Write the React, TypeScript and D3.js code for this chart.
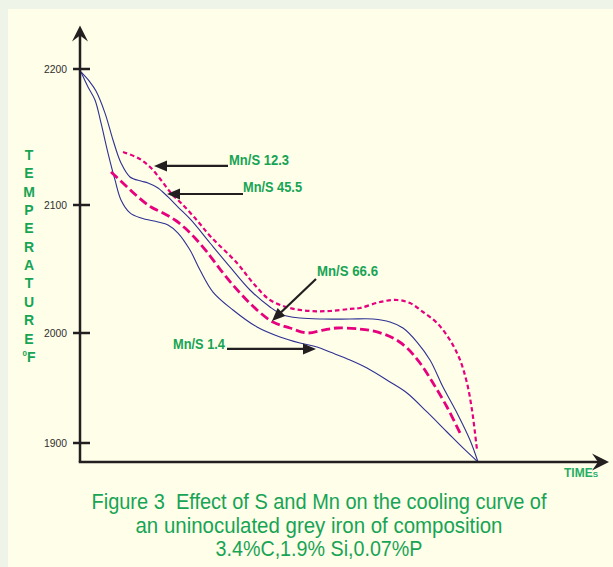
import * as d3 from 'd3';

const W = 613;
const H = 567;

// temperature ticks (°F) - the original axis is not evenly spaced
const tempTicks = [1900, 2000, 2100, 2200];
const yTitleLetters = ['T', 'E', 'M', 'P', 'E', 'R', 'A', 'T', 'U', 'R', 'E'];
const captionLines = [
  'Figure 3  Effect of S and Mn on the cooling curve of',
  'an uninoculated grey iron of composition',
  '3.4%C,1.9% Si,0.07%P',
];

// cooling curves: [time (arbitrary units), temperature °F]
const mnS45_5: [number, number][] = [
  [0.2, 2197.8], [2, 2190.4], [3.2, 2183.8], [5, 2167.6], [6.6, 2147.8], [8.2, 2130.9],
  [10, 2120.6], [12.2, 2117.6], [13.6, 2116.2], [15.6, 2112.5], [17.6, 2105.9], [19.6, 2098.4],
  [22.2, 2088.3], [26, 2070.3], [30, 2051.6], [34, 2033.6], [38, 2020.3], [40.6, 2014.1],
  [44, 2011.7], [48.6, 2010.9], [54, 2010.9], [58.6, 2010.9], [62, 2008.6], [64.6, 2003.9],
  [67.4, 1991.8], [70, 1975.5], [72.6, 1950.9], [75.4, 1927.3], [78, 1902.7], [79.6, 1882.7],
];

const mnS1_4: [number, number][] = [
  [0.2, 2197.8], [1.6, 2186.8], [3, 2177.2], [4.2, 2160.3], [5.6, 2138.2], [7, 2118.4],
  [8.2, 2103.7], [10, 2093.8], [12.2, 2089.8], [15.6, 2086.7], [17.6, 2084.4], [19.6, 2078.1],
  [22, 2064.8], [24, 2049.2], [26.6, 2032.0], [30.6, 2018.0], [35.4, 2004.7], [40, 1996.4],
  [44, 1990.9], [47.4, 1987.3], [50, 1982.7], [54, 1975.5], [57.4, 1968.2], [62, 1955.5],
  [65.4, 1945.5], [69.4, 1928.2], [73.4, 1910.0], [76.6, 1895.5], [79.6, 1882.7],
];

const mnS12_3: [number, number][] = [
  [8.6, 2139.0], [11.6, 2134.6], [14, 2127.9], [16.2, 2118.4], [18.2, 2108.8], [20.2, 2101.5],
  [23, 2089.8], [26.2, 2075.0], [31.4, 2054.7], [34.6, 2039.1], [38, 2025.8], [42, 2019.5],
  [46, 2017.2], [50, 2017.2], [54, 2018.8], [56, 2019.5], [60, 2024.2], [63.4, 2025.8],
  [66, 2023.4], [68.6, 2016.4], [71.4, 2007.8], [74, 1993.6], [76, 1975.5], [77.4, 1954.5],
  [78.4, 1930.0], [79, 1909.1], [79.4, 1893.6],
];

const mnS66_6: [number, number][] = [
  [6.2, 2124.3], [9, 2114.7], [11.6, 2105.9], [14.2, 2098.4], [16.6, 2093.8], [19, 2088.3],
  [21, 2082.0], [23, 2074.2], [25.4, 2063.3], [28.6, 2046.9], [32, 2031.3], [35.4, 2018.0],
  [38.6, 2008.6], [42, 2003.9], [45.4, 2000.0], [48.6, 2002.3], [51.4, 2003.9], [56, 2003.1],
  [59.4, 2000.8], [62.6, 1995.5], [65.4, 1986.4], [68, 1972.7], [70.6, 1954.5], [73.4, 1932.7],
  [76, 1909.1],
];

const series = [
  { key: '45.5', data: mnS45_5, color: '#2e3192', width: 1.1, dash: undefined },
  { key: '1.4', data: mnS1_4, color: '#2e3192', width: 1.1, dash: undefined },
  { key: '12.3', data: mnS12_3, color: '#e6007e', width: 2.2, dash: '4.5,3' },
  { key: '66.6', data: mnS66_6, color: '#e6007e', width: 2.8, dash: '9,4' },
];

// label arrows, in data units: tail (where the label sits) -> tip
const annotations = [
  { label: 'Mn/S 12.3', tail: [29.6, 2128.7], tip: [14.8, 2128.7], anchor: 'start', dx: 1, dy: -1, len: 60 },
  { label: 'Mn/S 45.5', tail: [32.6, 2108.1], tip: [17.4, 2108.1], anchor: 'start', dx: 0, dy: -2, len: 59 },
  { label: 'Mn/S 66.6', tail: [47.2, 2042.2], tip: [38.4, 2009.4], anchor: 'start', dx: 1, dy: -3, len: 61 },
  { label: 'Mn/S 1.4', tail: [29.4, 1985.5], tip: [47.2, 1985.5], anchor: 'end', dx: -2, dy: 0, len: 52 },
];

const timeMax = 105.8;
const tempFloor = 1882.7;
const tempTop = 2232;

const GREEN = '#17a455';
const INK = '#231f20';
const FONT = "'Liberation Sans', Arial, sans-serif";

function arrowHead(tip: [number, number], from: [number, number], len: number, half: number, notch: number) {
  const dx = tip[0] - from[0];
  const dy = tip[1] - from[1];
  const d = Math.hypot(dx, dy);
  const ux = dx / d, uy = dy / d;
  const px = -uy, py = ux;
  const bx = tip[0] - ux * len, by = tip[1] - uy * len;
  const nx = tip[0] - ux * (len - notch), ny = tip[1] - uy * (len - notch);
  return `M${tip[0]},${tip[1]}L${bx + px * half},${by + py * half}L${nx},${ny}L${bx - px * half},${by - py * half}Z`;
}

export default function App() {
  const x = d3.scaleLinear().domain([0, 100]).range([80, 580]);
  const y = d3.scaleLinear().domain(tempTicks).range([443, 333, 205, 69]);

  const line = d3
    .line<[number, number]>()
    .x((d) => x(d[0]))
    .y((d) => y(d[1]))
    .curve(d3.curveCatmullRom.alpha(0.5));

  const x0 = x(0);
  const yBase = y(tempFloor);
  const xEnd = x(timeMax);
  const yEnd = y(tempTop);

  return (
    <div style={{ position: 'absolute', left: 0, top: 0 }}>
      <svg width={W} height={H} style={{ display: 'block' }} fontFamily={FONT}>
        <rect width={W} height={H} fill="#eef4e7" />
        <rect x={8} y={9} width={W - 8} height={H - 9} fill="#fffee9" />

        {series.map((s) => (
          <path
            key={s.key}
            d={line(s.data) ?? ''}
            fill="none"
            stroke={s.color}
            strokeWidth={s.width}
            strokeDasharray={s.dash}
          />
        ))}

        {/* axes */}
        <line x1={x0} y1={yBase} x2={x0} y2={yEnd + 8} stroke={INK} strokeWidth={2.5} />
        <line x1={x0 - 1.25} y1={yBase} x2={xEnd - 8} y2={yBase} stroke={INK} strokeWidth={2.5} />
        <path d={arrowHead([x0, yEnd], [x0, yBase], 16, 8, 6)} fill={INK} />
        <path d={arrowHead([xEnd, yBase], [x0, yBase], 17, 8.5, 6)} fill={INK} />

        {tempTicks.map((t) => (
          <g key={t}>
            <line x1={x0 - 7} x2={x0 + 10} y1={y(t)} y2={y(t)} stroke={INK} strokeWidth={2.5} />
            <text
              x={67}
              y={y(t)}
              dominantBaseline="central"
              textAnchor="end"
              fontSize={11}
              fill="#2d2d2d"
              textLength={23}
              lengthAdjust="spacingAndGlyphs"
            >
              {t}
            </text>
          </g>
        ))}

        {/* vertical axis title */}
        {yTitleLetters.map((c, i) => (
          <text
            key={i}
            x={29}
            y={155 + i * 18.35}
            textAnchor="middle"
            dominantBaseline="central"
            fontSize={14}
            fontWeight="bold"
            fill={GREEN}
          >
            {c}
          </text>
        ))}
        <text x={29} y={155 + 11 * 18.35} textAnchor="middle" dominantBaseline="central" fontSize={14} fontWeight="bold" fill={GREEN}>
          <tspan fontSize={8} dy={-4}>0</tspan>
          <tspan dy={4}>F</tspan>
        </text>

        <text x={564} y={477} fontSize={12} fontWeight="bold" fill="#27ad62">
          TIME<tspan fontSize={8}>S</tspan>
        </text>

        {/* annotations */}
        {annotations.map((a) => {
          const tail: [number, number] = [x(a.tail[0]), y(a.tail[1])];
          const tip: [number, number] = [x(a.tip[0]), y(a.tip[1])];
          const dx = tip[0] - tail[0];
          const dy = tip[1] - tail[1];
          const d = Math.hypot(dx, dy);
          const stop: [number, number] = [tip[0] - (dx / d) * 10, tip[1] - (dy / d) * 10];
          return (
            <g key={a.label}>
              <line x1={tail[0]} y1={tail[1]} x2={stop[0]} y2={stop[1]} stroke={INK} strokeWidth={2.2} />
              <path d={arrowHead(tip, tail, 13, 5.5, 0)} fill={INK} />
              <text
                x={tail[0] + a.dx}
                y={tail[1] + a.dy}
                textAnchor={a.anchor}
                fontSize={15}
                fontWeight="bold"
                fill={GREEN}
                textLength={a.len}
                lengthAdjust="spacingAndGlyphs"
              >
                {a.label}
              </text>
            </g>
          );
        })}

        {/* caption */}
        {captionLines.map((l, i) => (
          <text
            key={i}
            x={319}
            y={509 + i * 23.5}
            textAnchor="middle"
            fontSize={22}
            fill={GREEN}
            style={{ whiteSpace: 'pre' }}
            textLength={[455, 367, 207][i]}
            lengthAdjust="spacingAndGlyphs"
          >
            {l}
          </text>
        ))}
      </svg>
    </div>
  );
}
